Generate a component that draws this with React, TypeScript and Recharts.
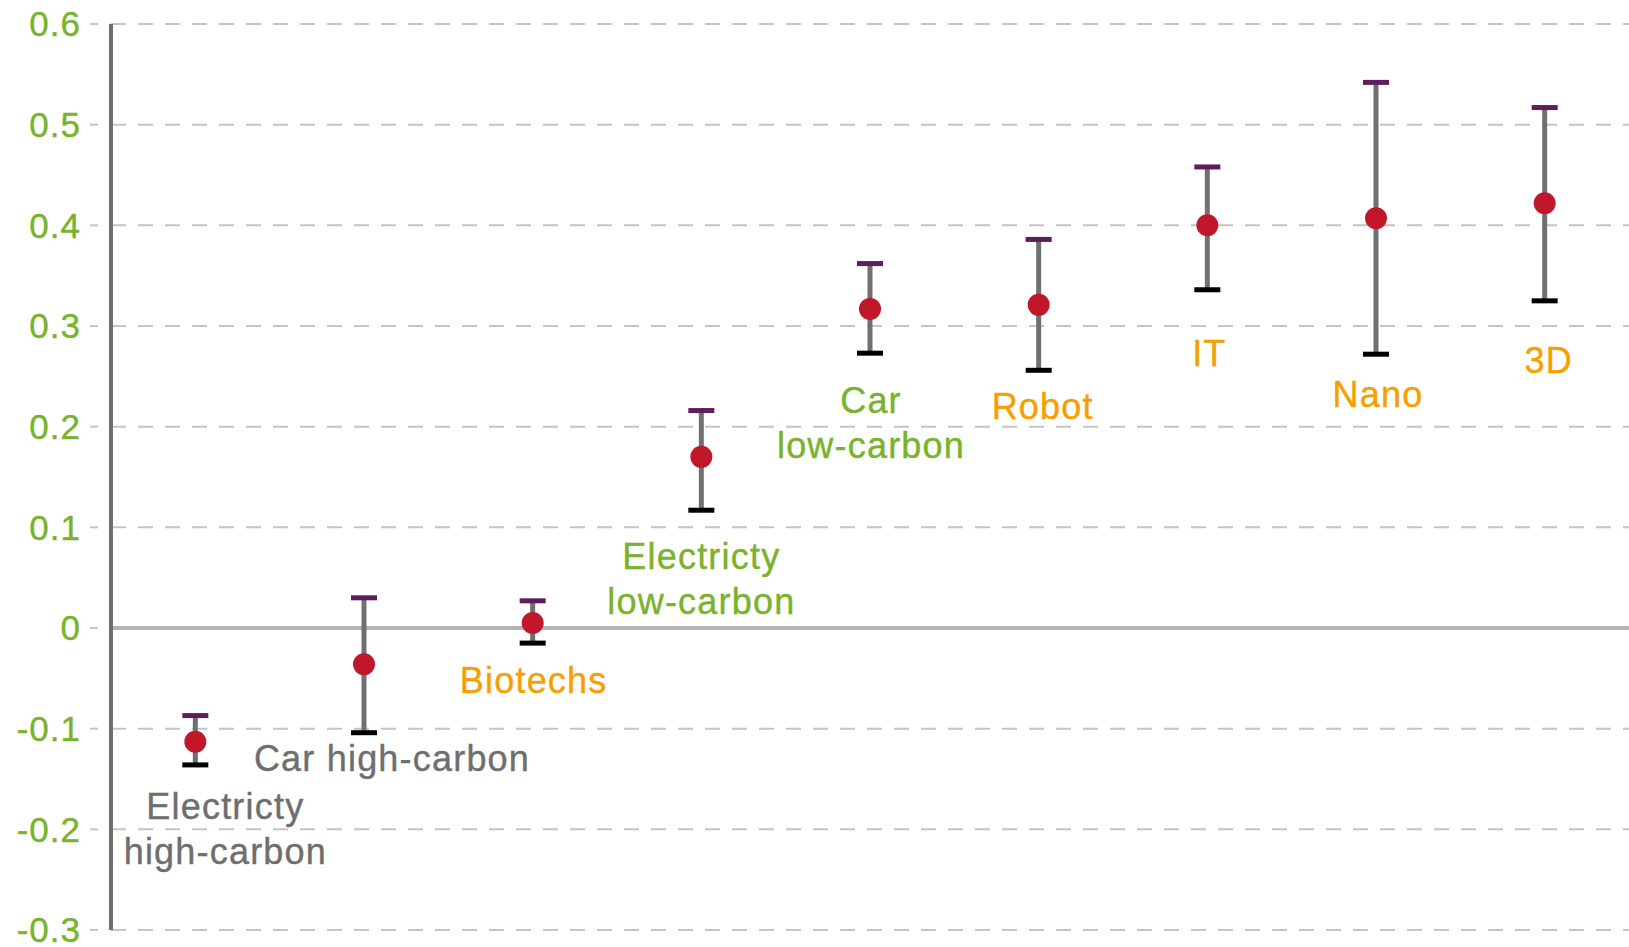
import { ComposedChart, Scatter, ErrorBar, XAxis, YAxis, CartesianGrid, ReferenceLine } from "recharts";

const categories = [
  "Electricty high-carbon",
  "Car high-carbon",
  "Biotechs",
  "Electricty low-carbon",
  "Car low-carbon",
  "Robot",
  "IT",
  "Nano",
  "3D",
];
const labelLines = [
  ["Electricty", "high-carbon"],
  ["Car high-carbon"],
  ["Biotechs"],
  ["Electricty", "low-carbon"],
  ["Car", "low-carbon"],
  ["Robot"],
  ["IT"],
  ["Nano"],
  ["3D"],
];
const labelGroup = ["high", "high", "other", "low", "low", "other", "other", "other", "other"];
const estimates = [-0.113, -0.036, 0.005, 0.17, 0.317, 0.321, 0.4, 0.407, 0.422];
const upper = [-0.087, 0.03, 0.027, 0.216, 0.362, 0.386, 0.458, 0.542, 0.517];
const lower = [-0.136, -0.104, -0.015, 0.117, 0.273, 0.256, 0.336, 0.272, 0.325];
// value at which each text label sits
const labelAnchor = [-0.177, -0.129, -0.052, 0.072, 0.226, 0.221, 0.273, 0.232, 0.266];
const yTicks = [-0.3, -0.2, -0.1, 0, 0.1, 0.2, 0.3, 0.4, 0.5, 0.6];

const GROUP_COLORS: Record<string, string> = {
  high: "#6e6e6e",
  low: "#79b32b",
  other: "#f5a000",
};
const LABEL_DX = [30, 28, 1, 0, 1, 4, 2, 2, 4];
const FONT = "'Liberation Sans', Arial, sans-serif";

const data = categories.map((name, i) => ({
  name,
  mid: estimates[i],
  hi: upper[i],
  lo: lower[i],
  err: [estimates[i] - lower[i], upper[i] - estimates[i]],
  lab: labelAnchor[i],
  lines: labelLines[i],
  group: labelGroup[i],
  idx: i,
}));

const fmt = (v: number) => (Math.abs(v) < 1e-9 ? "0" : String(Math.round(v * 10) / 10));

const Dot = (p: any) => <circle cx={p.cx} cy={p.cy} r={11} fill="#c0172b" />;
const TopCap = (p: any) => <rect x={p.cx - 13} y={p.cy - 2.5} width={26} height={5} fill="#5e1d5b" />;
const LowCap = (p: any) => <rect x={p.cx - 13} y={p.cy - 2.5} width={26} height={5} fill="#000000" />;

const LabelShape = (p: any) => {
  const row = p.payload;
  const x = p.cx + LABEL_DX[row.idx];
  return (
    <text
      x={x}
      y={p.cy}
      textAnchor="middle"
      dominantBaseline="central"
      fontFamily={FONT}
      fontSize={36}
      letterSpacing={1.2}
      fill={GROUP_COLORS[row.group]}
      stroke={GROUP_COLORS[row.group]}
      strokeWidth={0.4}
    >
      {row.lines.map((t: string, k: number) => (
        <tspan key={k} x={x} dy={k === 0 ? 0 : 45}>
          {t}
        </tspan>
      ))}
    </text>
  );
};

const App = () => {
  return (
    <div style={{ position: "absolute", left: 0, top: 0, background: "#fff" }}>
      <ComposedChart width={1629} height={947} data={data} margin={{ top: 24, right: 0, bottom: 17, left: 0 }}>
        <CartesianGrid vertical={false} stroke="#c4c4c4" strokeWidth={2} strokeDasharray="15 12" />
        <XAxis dataKey="name" type="category" scale="band" hide height={0} />
        <YAxis
          type="number"
          domain={[-0.3, 0.6]}
          ticks={yTicks}
          interval={0}
          width={111}
          tickFormatter={fmt}
          axisLine={{ stroke: "#707070", strokeWidth: 4 }}
          tickLine={{ stroke: "#c4c4c4", strokeWidth: 2, strokeDasharray: "8 13" }}
          tickSize={21}
          tickMargin={9}
          tick={{ fill: "#79b32b", fontSize: 35, fontFamily: FONT, letterSpacing: 1, stroke: "#79b32b", strokeWidth: 0.4 }}
        />
        <ReferenceLine y={0} stroke="#b4b4b4" strokeWidth={4} />
        <Scatter dataKey="lab" shape={LabelShape} isAnimationActive={false} />
        <Scatter dataKey="mid" shape={Dot} isAnimationActive={false}>
          <ErrorBar dataKey="err" direction="y" width={0} stroke="#707070" strokeWidth={5} />
        </Scatter>
        <Scatter dataKey="hi" shape={TopCap} isAnimationActive={false} />
        <Scatter dataKey="lo" shape={LowCap} isAnimationActive={false} />
      </ComposedChart>
    </div>
  );
};

export default App;
